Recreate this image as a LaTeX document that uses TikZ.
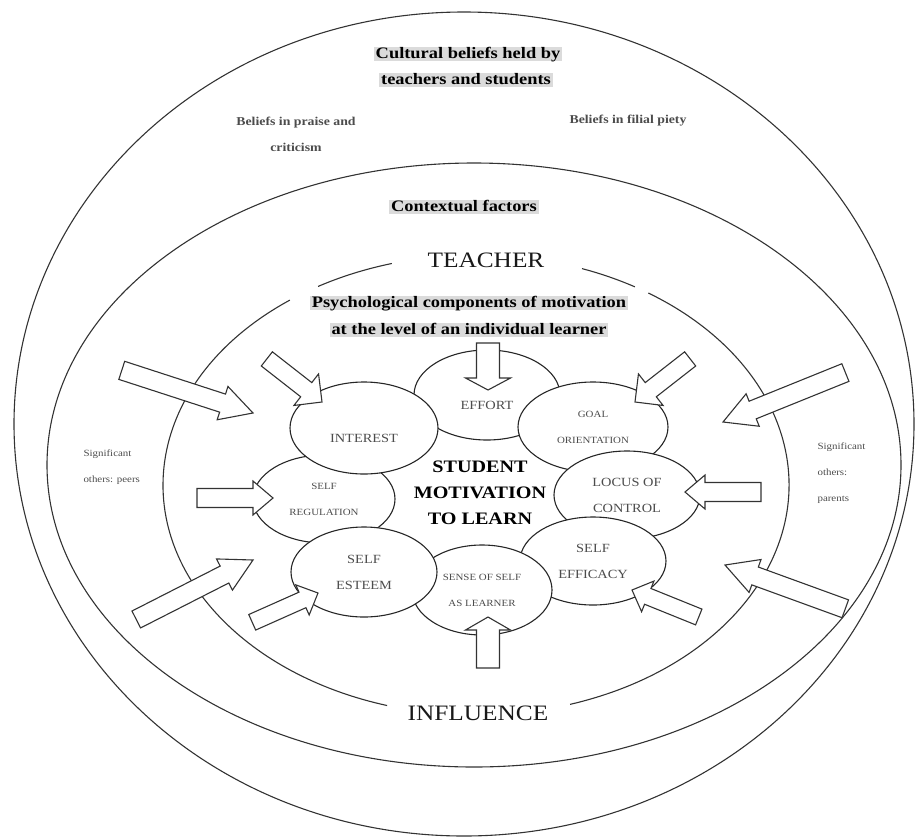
\documentclass[tikz,border=0pt]{standalone}
\usepackage{fontspec}
\setmainfont{Liberation Serif}[FakeStretch=1.15]
\usetikzlibrary{shapes.geometric}

\tikzset{
  ring/.style={draw=black!80, line width=1.1pt},
  factor/.style={ellipse, draw=black!85, line width=1.1pt, fill=white,
    inner sep=0pt, align=center, text=black!70,
    minimum width=146pt, minimum height=90pt},
  midtext/.style={font=\fontsize{12.5}{26}\selectfont},
  tinytext/.style={font=\fontsize{9.5}{26}\selectfont},
  shaded/.style={fill=black!14, inner xsep=2pt, inner ysep=0pt,
    text height=11pt, text depth=3pt,
    font=\fontsize{16}{26}\selectfont\bfseries},
  aside/.style={align=center, text=black!70,
    font=\fontsize{12}{26}\selectfont\bfseries},
  others/.style={align=left, anchor=west, text=black!70,
    font=\fontsize{9.5}{26}\selectfont},
  ringword/.style={text=black!90, font=\fontsize{22}{26}\selectfont},
  arrowbody/.style={draw=black!80, line width=1.1pt, fill=white},
}

% block arrow: tip, angle, length, shaft width, head width, head length
\newcommand{\blockarrow}[6]{%
  \begin{scope}[shift={#1}, rotate=#2]
    \draw[arrowbody] (0,0) -- (-#6,#5/2) -- (-#6,#4/2) -- (-#3,#4/2)
      -- (-#3,-#4/2) -- (-#6,-#4/2) -- (-#6,-#5/2) -- cycle;
  \end{scope}}

\begin{document}
\begin{tikzpicture}[x=1pt, y=1pt]
    \useasboundingbox (0,0) rectangle (915,-838);

    % Rings
    \coordinate (cultc) at (464,-424);
    \coordinate (contc) at (474,-465);
    \coordinate (inflc) at (476,-485);
    \draw[ring] (cultc) ellipse [x radius=450pt, y radius=412pt];
    \draw[ring] (contc) ellipse [x radius=427pt, y radius=302pt];
    \foreach \a/\b in {126.5/253.5, 287.5/416.6, 59.5/70.2, 105.6/120.3}
        \draw[ring] ([shift={(\a:313pt and 230pt)}]inflc)
            arc [start angle=\a, end angle=\b, x radius=313pt, y radius=230pt];

    % Cultural beliefs
    \node[shaded] (cult1) at (468,-54) {Cultural beliefs held by};
    \node[shaded] (cult2) at (466,-80) {teachers and students};
    \node[aside] (praise) at (296,-134) {Beliefs in praise and\\criticism};
    \node[aside] (piety) at (628,-121) {Beliefs in filial piety};

    % Contextual factors
    \node[shaded] (context) at (464,-207) {Contextual factors};
    \node[others] (peers) at (80,-467) {Significant\\others: peers};
    \node[others] (parents) at (814,-473) {Significant\\others:\\parents};
    \node[ringword] (teacher) at (486,-260) {TEACHER};
    \node[ringword] (influence) at (478,-713) {INFLUENCE};

    % Psychological components
    \node[shaded] (psych1) at (469,-303) {Psychological components of motivation};
    \node[shaded] (psych2) at (469,-330) {at the level of an individual learner};

    \node[factor, midtext] (effort) at (487,-395)
        {\raisebox{-14pt}[0pt][0pt]{EFFORT}};
    \node[factor, tinytext, minimum width=150pt] (goal) at (593,-427)
        {GOAL\\ORIENTATION};
    \node[factor, midtext, minimum height=88pt] (locus) at (627,-495)
        {LOCUS OF\\CONTROL};
    \node[factor, midtext, minimum height=88pt] (efficacy) at (593,-561)
        {SELF\\EFFICACY};
    \node[factor, tinytext, minimum width=140pt] (sense) at (482,-590)
        {SENSE OF SELF\\AS LEARNER};
    \node[factor, tinytext, minimum width=142pt, minimum height=88pt] (selfreg)
        at (324,-499) {SELF\\REGULATION};
    \node[factor, midtext] (esteem) at (364,-572) {SELF\\ESTEEM};
    \node[factor, midtext, minimum width=148pt, minimum height=92pt] (interest)
        at (364,-428) {\raisebox{-14pt}[0pt][0pt]{INTEREST}};

    \node[align=center, font=\fontsize{17.5}{26}\selectfont\bfseries]
        (motivation) at (480,-493) {STUDENT\\MOTIVATION\\TO LEARN};

    % Arrows from the contextual ring
    \blockarrow{(253,-413)}{-18}{138}{19}{35}{32}
    \blockarrow{(723,-422)}{202}{132}{19}{35}{32}
    \blockarrow{(253,-560)}{27}{131}{19}{35}{32}
    \blockarrow{(725,-565)}{160}{128}{19}{35}{32}

    % Arrows onto the components
    \blockarrow{(322,-402)}{-38}{70}{18}{40}{20}
    \blockarrow{(635,-402)}{218}{70}{18}{40}{20}
    \blockarrow{(488,-390)}{-90}{47}{23}{45}{12}
    \blockarrow{(488,-617)}{90}{51}{23}{45}{13}
    \blockarrow{(273,-498)}{0}{76}{19}{34}{20}
    \blockarrow{(685,-492)}{180}{76}{19}{34}{20}
    \blockarrow{(318,-593)}{24}{72}{17}{33}{17}
    \blockarrow{(632,-590)}{158}{72}{17}{33}{17}
\end{tikzpicture}
\end{document}
